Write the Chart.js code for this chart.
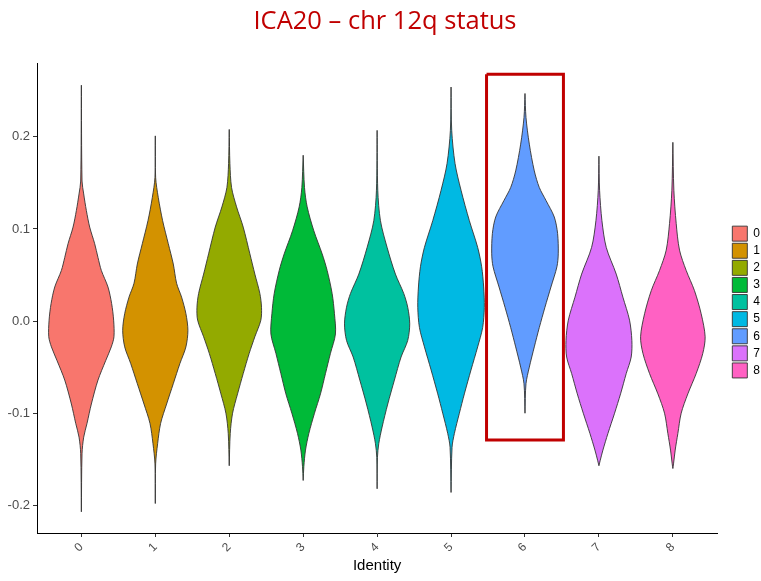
<!DOCTYPE html>
<html>
<head>
<meta charset="utf-8">
<script src="https://cdn.jsdelivr.net/npm/chart.js@4.4.1/dist/chart.umd.min.js"></script>
<style>
  html, body { margin: 0; padding: 0; background: #fff; overflow: hidden; }
</style>
</head>
<body>
<canvas id="vlnChart" width="770" height="581"></canvas>
<script>
// clusters (x categories)
const categories = ['0', '1', '2', '3', '4', '5', '6', '7', '8'];

// violin outlines: [ICA20 score, relative density 0..1]
const cluster0 = [[0.256, 0], [0.152, 0.02], [0.138, 0.07], [0.120, 0.15], [0.102, 0.25], [0.084, 0.40], [0.069, 0.50], [0.055, 0.60], [0.037, 0.80], [0.019, 0.91], [0.001, 0.97], [-0.017, 0.98], [-0.028, 0.90], [-0.043, 0.73], [-0.064, 0.50], [-0.090, 0.30], [-0.111, 0.17], [-0.126, 0.07], [-0.144, 0.02], [-0.207, 0]];
const cluster1 = [[0.201, 0], [0.156, 0.01], [0.134, 0.09], [0.109, 0.22], [0.084, 0.39], [0.062, 0.54], [0.041, 0.64], [0.026, 0.79], [0.008, 0.92], [-0.010, 0.98], [-0.028, 0.92], [-0.046, 0.74], [-0.068, 0.54], [-0.090, 0.34], [-0.111, 0.16], [-0.133, 0.07], [-0.155, 0.01], [-0.198, 0]];
const cluster2 = [[0.208, 0], [0.171, 0.02], [0.145, 0.07], [0.124, 0.22], [0.102, 0.42], [0.073, 0.62], [0.051, 0.77], [0.030, 0.92], [0.015, 0.97], [0.001, 0.95], [-0.017, 0.77], [-0.035, 0.60], [-0.057, 0.42], [-0.079, 0.25], [-0.100, 0.10], [-0.122, 0.03], [-0.157, 0]];
const cluster3 = [[0.180, 0], [0.145, 0.04], [0.124, 0.12], [0.098, 0.32], [0.073, 0.57], [0.055, 0.72], [0.030, 0.87], [0.008, 0.94], [-0.014, 0.97], [-0.035, 0.82], [-0.057, 0.67], [-0.079, 0.52], [-0.100, 0.34], [-0.122, 0.17], [-0.140, 0.07], [-0.158, 0.02], [-0.173, 0]];
const cluster4 = [[0.207, 0], [0.142, 0.02], [0.109, 0.10], [0.080, 0.30], [0.051, 0.55], [0.030, 0.80], [0.015, 0.92], [-0.003, 0.98], [-0.021, 0.92], [-0.039, 0.72], [-0.064, 0.52], [-0.090, 0.32], [-0.115, 0.15], [-0.133, 0.05], [-0.148, 0.01], [-0.182, 0]];
const cluster5 = [[0.254, 0], [0.207, 0.02], [0.171, 0.12], [0.142, 0.30], [0.109, 0.55], [0.080, 0.80], [0.059, 0.92], [0.037, 0.98], [0.015, 1.00], [-0.007, 0.95], [-0.028, 0.80], [-0.053, 0.60], [-0.079, 0.40], [-0.100, 0.25], [-0.122, 0.10], [-0.137, 0.03], [-0.186, 0]];
const cluster6 = [[0.247, 0], [0.221, 0.03], [0.192, 0.13], [0.163, 0.28], [0.145, 0.43], [0.131, 0.63], [0.113, 0.88], [0.095, 0.98], [0.073, 1.00], [0.059, 0.96], [0.037, 0.78], [0.015, 0.60], [-0.007, 0.43], [-0.028, 0.28], [-0.050, 0.13], [-0.068, 0.03], [-0.100, 0]];
const cluster7 = [[0.179, 0], [0.142, 0.02], [0.109, 0.09], [0.080, 0.22], [0.051, 0.52], [0.026, 0.72], [0.001, 0.92], [-0.021, 0.99], [-0.039, 0.97], [-0.057, 0.82], [-0.079, 0.65], [-0.100, 0.47], [-0.122, 0.27], [-0.140, 0.12], [-0.151, 0.04], [-0.157, 0]];
const cluster8 = [[0.194, 0], [0.142, 0.03], [0.106, 0.10], [0.077, 0.20], [0.055, 0.40], [0.033, 0.65], [0.008, 0.85], [-0.017, 0.97], [-0.035, 0.90], [-0.057, 0.70], [-0.079, 0.45], [-0.100, 0.25], [-0.122, 0.15], [-0.140, 0.07], [-0.155, 0.02], [-0.160, 0]];

const yTicks = [-0.2, -0.1, 0.0, 0.1, 0.2];

// highlighted cluster (red box) and its y span
const highlightCluster = 6;
const highlightRange = [-0.129, 0.268];

const clusters = [cluster0, cluster1, cluster2, cluster3, cluster4, cluster5, cluster6, cluster7, cluster8];
const colors = ['#F8766D', '#D39200', '#93AA00', '#00BA38', '#00C19F', '#00B9E3', '#619CFF', '#DB72FB', '#FF61C3'];
const violinWidth = 0.9;

// build closed outline: right side top->bottom, left side bottom->top
function outline(profile, i) {
  const half = violinWidth / 2;
  const right = profile.map(([y, d]) => ({ x: i + d * half, y: y }));
  const left = profile.slice().reverse().map(([y, d]) => ({ x: i - d * half, y: y }));
  return right.concat(left);
}

const datasets = clusters.map((profile, i) => ({
  label: categories[i],
  data: outline(profile, i),
  showLine: true,
  fill: 'shape',
  backgroundColor: colors[i],
  borderColor: '#333333',
  borderWidth: 0.9,
  tension: 0.3,
  pointRadius: 0,
  pointHitRadius: 0
}));

// red box around the highlighted violin
const bx = [highlightCluster - 0.52, highlightCluster + 0.52];
datasets.push({
  label: 'highlight',
  data: [
    { x: bx[0], y: highlightRange[1] }, { x: bx[1], y: highlightRange[1] },
    { x: bx[1], y: highlightRange[0] }, { x: bx[0], y: highlightRange[0] },
    { x: bx[0], y: highlightRange[1] }
  ],
  showLine: true,
  fill: false,
  borderColor: '#C00000',
  borderWidth: 3,
  pointRadius: 0,
  order: -1
});

const ctx = document.getElementById('vlnChart').getContext('2d');

new Chart(ctx, {
  type: 'scatter',
  data: { datasets: datasets },
  options: {
    responsive: false,
    animation: false,
    layout: { padding: 0 },
    plugins: {
      title: {
        display: true,
        text: 'ICA20 – chr 12q status',
        color: '#C00000',
        font: { family: 'Open Sans', size: 25.5, weight: 'normal', lineHeight: 1.2 },
        padding: { top: 6, bottom: 26.5 }
      },
      legend: {
        position: 'right',
        fullSize: false,
        align: 'center',
        title: { display: true, text: ' ', font: { size: 5 }, padding: 1 },
        labels: {
          boxWidth: 15,
          boxHeight: 15,
          padding: 2.1,
          color: '#000',
          font: { family: 'Liberation Sans', size: 12 },
          filter: (item) => item.datasetIndex < categories.length
        }
      },
      tooltip: { enabled: false }
    },
    scales: {
      x: {
        type: 'linear',
        min: -0.6,
        max: 8.6,
        afterBuildTicks: (axis) => { axis.ticks = categories.map((c, i) => ({ value: i })); },
        afterFit: (axis) => { axis.height = 48; },
        ticks: {
          autoSkip: false,
          minRotation: 45,
          maxRotation: 45,
          color: '#4D4D4D',
          font: { family: 'Liberation Sans', size: 12 },
          padding: 3,
          callback: (v) => categories[v]
        },
        grid: { drawOnChartArea: false, drawTicks: true, tickLength: 4, color: '#333' },
        border: { display: true, color: '#000', width: 1 },
        title: {
          display: true,
          text: 'Identity',
          color: '#000',
          font: { family: 'Liberation Sans', size: 15 },
          padding: { top: 0, bottom: 6 }
        }
      },
      y: {
        type: 'linear',
        min: -0.23,
        max: 0.28,
        afterBuildTicks: (axis) => { axis.ticks = yTicks.map(v => ({ value: v })); },
        afterFit: (axis) => { axis.width = 37; },
        ticks: {
          color: '#4D4D4D',
          font: { family: 'Liberation Sans', size: 13 },
          padding: 3,
          callback: (v) => v.toFixed(1)
        },
        grid: { drawOnChartArea: false, drawTicks: true, tickLength: 4, color: '#333' },
        border: { display: true, color: '#000', width: 1 }
      },
      // empty spacer between plot and legend
      spacer: {
        type: 'linear',
        position: 'right',
        display: true,
        afterFit: (axis) => { axis.width = 13; },
        ticks: { display: false },
        grid: { display: false },
        border: { display: false }
      }
    }
  }
});
</script>
</body>
</html>
